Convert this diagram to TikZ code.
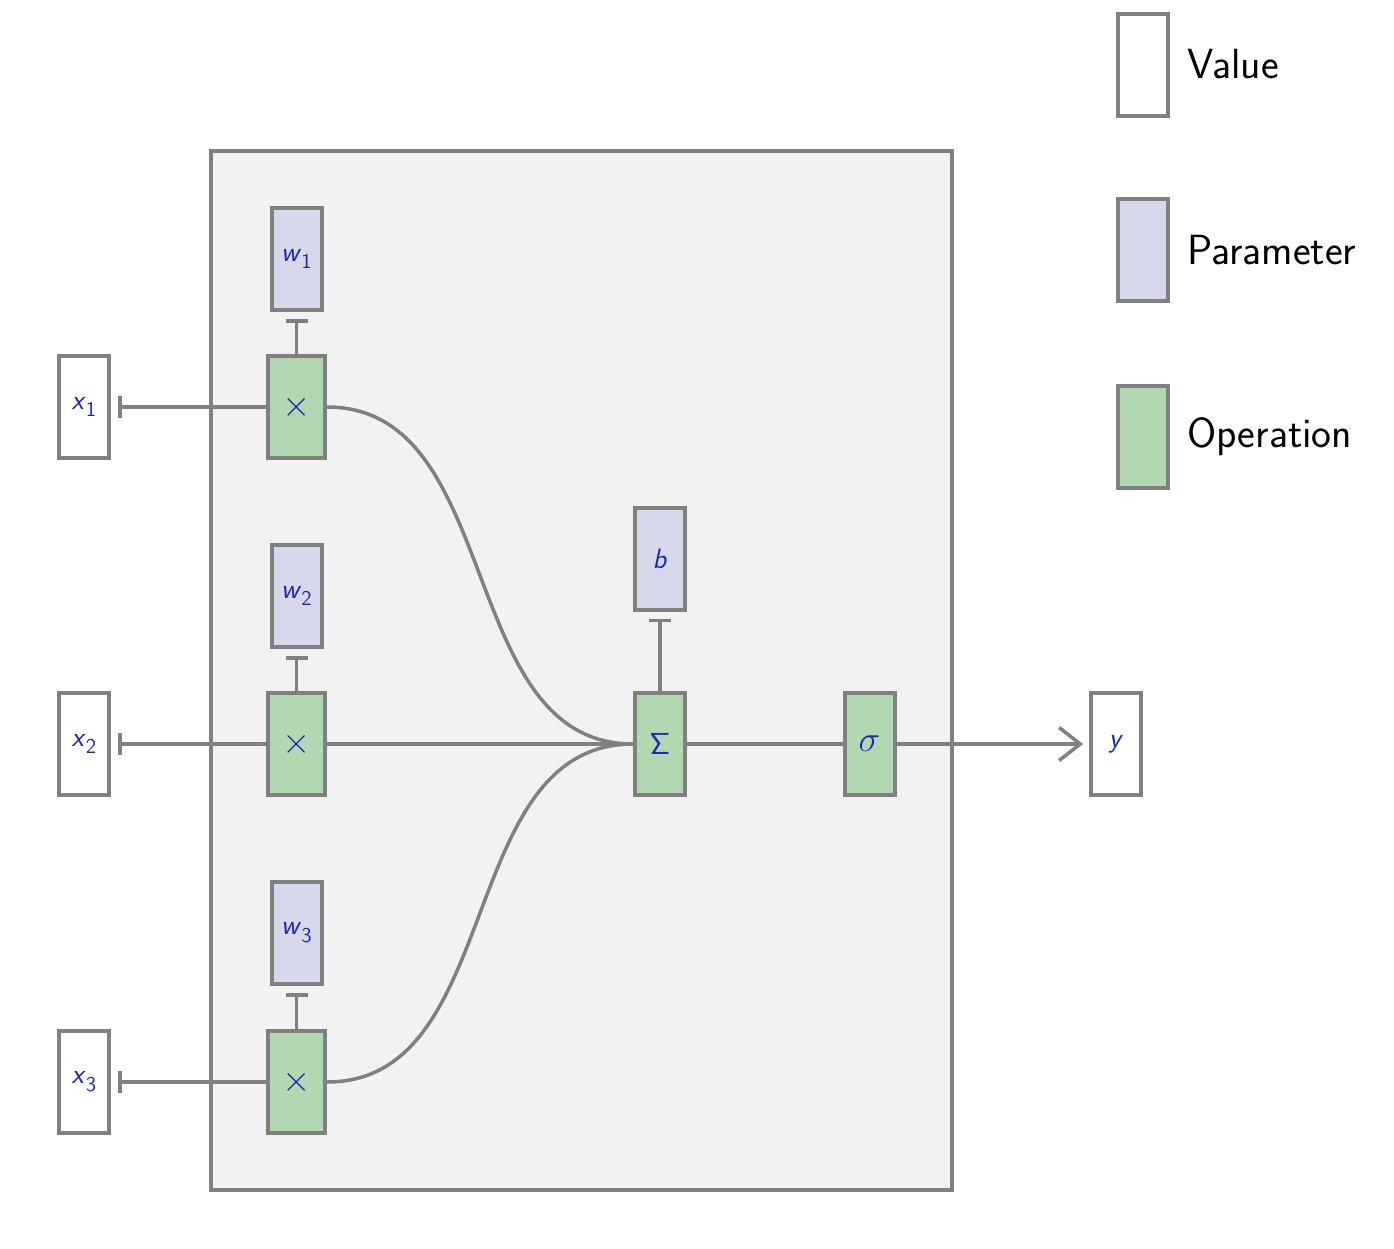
\documentclass[tikz,border=0pt]{standalone}
\usetikzlibrary{arrows.meta}
\definecolor{linegray}{RGB}{128,128,128}
\definecolor{paramfill}{RGB}{216,216,236}
\definecolor{opfill}{RGB}{178,216,178}
\definecolor{bgfill}{RGB}{242,242,242}
\definecolor{labelblue}{RGB}{30,40,180}
\newcommand\varlbl[2]{\textit{#1}\raisebox{-0.28em}{\fontsize{12}{14}\selectfont #2}}
\begin{document}
\begin{tikzpicture}[
    every node/.style={font=\sffamily\fontsize{16}{19}\selectfont, text=labelblue},
    box/.style={draw=linegray, line width=0.08cm, minimum width=1.0cm, minimum height=2.04cm, inner sep=0pt},
    value/.style={box, fill=white},
    param/.style={box, fill=paramfill},
    oper/.style={box, fill=opfill},
    wire/.style={draw=linegray, line width=0.07cm},
    feed/.style={wire, -{Bar[width=0.44cm]}, shorten >=0.14cm},
    legendtext/.style={anchor=west, text=black, font=\sffamily\fontsize{24}{27}\selectfont}
  ]
    \useasboundingbox (0,0) rectangle (27.88,-24.96);

	% the neuron
	\draw[linegray, fill=bgfill, line width=0.07cm] (4.22,-3.02) rectangle (19.04,-23.8);

	\node[value] (x1) at (1.68,-8.14) {\varlbl{x}{1}};
	\node[value] (x2) at (1.68,-14.88) {\varlbl{x}{2}};
	\node[value] (x3) at (1.68,-21.64) {\varlbl{x}{3}};

	\node[param] (w1) at (5.93,-5.18) {\varlbl{w}{1}};
	\node[param] (w2) at (5.93,-11.92) {\varlbl{w}{2}};
	\node[param] (w3) at (5.93,-18.66) {\varlbl{w}{3}};

	\node[oper, minimum width=1.14cm, font=\fontsize{20.74}{24}\selectfont] (m1) at (5.93,-8.14) {$\times$};
	\node[oper, minimum width=1.14cm, font=\fontsize{20.74}{24}\selectfont] (m2) at (5.93,-14.88) {$\times$};
	\node[oper, minimum width=1.14cm, font=\fontsize{20.74}{24}\selectfont] (m3) at (5.93,-21.64) {$\times$};

	\node[param] (b) at (13.2,-11.17) {\textit{b}};
	\node[oper] (sum) at (13.2,-14.88) {$\mathsf{\Sigma}$};
	\node[oper, font=\fontsize{20}{23}\selectfont] (act) at (17.39,-14.88) {$\sigma$};
	\node[value] (y) at (22.32,-14.88) {\textit{y}};

	\draw[feed] (m1) -- (x1);
	\draw[feed] (m2) -- (x2);
	\draw[feed] (m3) -- (x3);
	\draw[feed] (m1) -- (w1);
	\draw[feed] (m2) -- (w2);
	\draw[feed] (m3) -- (w3);
	\draw[feed] (sum) -- (b);

	\draw[wire] (m1.east) to[out=0, in=180] (sum.west);
	\draw[wire] (m2.east) -- (sum.west);
	\draw[wire] (m3.east) to[out=0, in=180] (sum.west);
	\draw[wire] (sum) -- (act);
	\draw[wire, -{Straight Barb[length=0.42cm, width=0.66cm]}, shorten >=0.12cm] (act) -- (y);

	% legend
	\node[value] (lv) at (22.86,-1.29) {};
	\node[param] (lp) at (22.86,-5.0) {};
	\node[oper] (lo) at (22.86,-8.73) {};
	\node[legendtext] at (23.62,-1.29) {Value};
	\node[legendtext] at (23.62,-5.0) {Parameter};
	\node[legendtext] at (23.62,-8.73) {Operation};

\end{tikzpicture}
\end{document}
